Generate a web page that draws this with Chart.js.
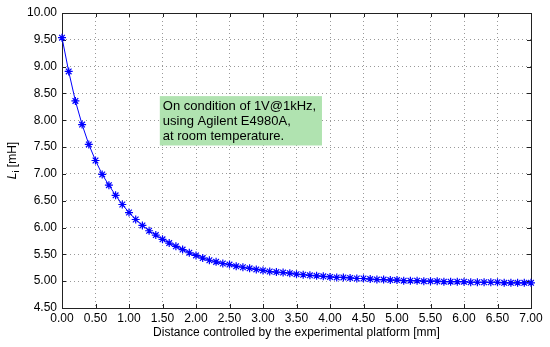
<!DOCTYPE html>
<html>
<head>
<meta charset="utf-8">
<script src="https://cdn.jsdelivr.net/npm/chart.js@4"></script>
<style>
  html, body { margin: 0; padding: 0; background: #fff; }
  #wrap { width: 550px; height: 347px; }
</style>
</head>
<body>
<div id="wrap"><canvas id="inductanceChart" width="550" height="347"></canvas></div>
<script>
// distance in mm, inductance in mH
const distances = [
    0.0, 0.1, 0.2, 0.3, 0.4, 0.5, 0.6, 0.7, 0.8, 0.9,
    1.0, 1.1, 1.2, 1.3, 1.4, 1.5, 1.6, 1.7, 1.8, 1.9,
    2.0, 2.1, 2.2, 2.3, 2.4, 2.5, 2.6, 2.7, 2.8, 2.9,
    3.0, 3.1, 3.2, 3.3, 3.4, 3.5, 3.6, 3.7, 3.8, 3.9,
    4.0, 4.1, 4.2, 4.3, 4.4, 4.5, 4.6, 4.7, 4.8, 4.9,
    5.0, 5.1, 5.2, 5.3, 5.4, 5.5, 5.6, 5.7, 5.8, 5.9,
    6.0, 6.1, 6.2, 6.3, 6.4, 6.5, 6.6, 6.7, 6.8, 6.9,
    7.0
];
const inductance = [
    9.54, 8.91, 8.36, 7.92, 7.55, 7.25, 6.99, 6.79, 6.60, 6.43,
    6.28, 6.15, 6.04, 5.94, 5.86, 5.78, 5.71, 5.65, 5.59, 5.53,
    5.48, 5.43, 5.39, 5.36, 5.33, 5.31, 5.28, 5.26, 5.24, 5.22,
    5.20, 5.18, 5.17, 5.16, 5.15, 5.13, 5.12, 5.11, 5.10, 5.09,
    5.08, 5.07, 5.07, 5.06, 5.05, 5.05, 5.04, 5.03, 5.03, 5.02,
    5.02, 5.01, 5.01, 5.01, 5.00, 5.00, 5.00, 4.99, 4.99, 4.99,
    4.99, 4.98, 4.98, 4.98, 4.98, 4.98, 4.97, 4.97, 4.97, 4.97,
    4.97
];
const noteLines = [
    "On condition of 1V@1kHz,",
    "using Agilent E4980A,",
    "at room temperature."
];
const xTitle = "Distance controlled by the experimental platform [mm]";

const FONT = "'Liberation Sans', Arial, Helvetica, sans-serif";

// box frame + inward tick marks on all four sides
const frameTicks = {
    id: "frameTicks",
    beforeDatasetsDraw(chart) {
        const ctx = chart.ctx;
        const { left, right, top, bottom } = chart.chartArea;
        const xs = chart.scales.x, ys = chart.scales.y;
        const len = 4;
        ctx.save();
        ctx.strokeStyle = "#222";
        ctx.lineWidth = 1;
        ctx.strokeRect(Math.round(left) + 0.5, Math.round(top) + 0.5,
            Math.round(right - left), Math.round(bottom - top));
        ctx.beginPath();
        xs.ticks.forEach(t => {
            const px = Math.round(xs.getPixelForValue(t.value)) + 0.5;
            ctx.moveTo(px, bottom); ctx.lineTo(px, bottom - len);
            ctx.moveTo(px, top); ctx.lineTo(px, top + len);
        });
        ys.ticks.forEach(t => {
            const py = Math.round(ys.getPixelForValue(t.value)) + 0.5;
            ctx.moveTo(left, py); ctx.lineTo(left + len, py);
            ctx.moveTo(right, py); ctx.lineTo(right - len, py);
        });
        ctx.stroke();

        // y title: italic L with subscript i, then [mH]
        ctx.translate(13, (top + bottom) / 2);
        ctx.rotate(-Math.PI / 2);
        ctx.fillStyle = "#000";
        ctx.textBaseline = "middle";
        ctx.font = "italic 12px " + FONT;
        const wL = ctx.measureText("L").width;
        ctx.font = "9px " + FONT;
        const wi = ctx.measureText("i").width;
        ctx.font = "12px " + FONT;
        const wRest = ctx.measureText(" [mH]").width;
        let x0 = -(wL + wi + wRest) / 2;
        ctx.font = "italic 12px " + FONT;
        ctx.textAlign = "left";
        ctx.fillText("L", x0, 0);
        ctx.font = "9px " + FONT;
        ctx.fillText("i", x0 + wL, 4);
        ctx.font = "12px " + FONT;
        ctx.fillText(" [mH]", x0 + wL + wi, 0);
        ctx.restore();
    }
};

// green note box
const noteBox = {
    id: "noteBox",
    afterDatasetsDraw(chart) {
        const ctx = chart.ctx;
        const xs = chart.scales.x, ys = chart.scales.y;
        const x1 = xs.getPixelForValue(1.46), x2 = xs.getPixelForValue(3.88);
        const y1 = ys.getPixelForValue(8.45), y2 = ys.getPixelForValue(7.53);
        ctx.save();
        ctx.fillStyle = "#b0e3b0";
        ctx.fillRect(x1, y1, x2 - x1, y2 - y1);
        ctx.fillStyle = "#000";
        ctx.font = "13px " + FONT;
        ctx.textBaseline = "middle";
        noteLines.forEach((line, i) => {
            ctx.fillText(line, x1 + 3, y1 + 10 + i * 15);
        });
        ctx.restore();
    }
};

const ctx = document.getElementById("inductanceChart").getContext("2d");

new Chart(ctx, {
    type: "line",
    data: {
        datasets: [{
            data: distances.map((d, i) => ({ x: d, y: inductance[i] })),
            borderColor: "#0000ff",
            backgroundColor: "#0000ff",
            borderWidth: 1,
            pointStyle: "star",
            pointRadius: 4,
            pointBorderWidth: 1.2,
            tension: 0,
            fill: false,
            clip: false
        }]
    },
    options: {
        responsive: false,
        animation: false,
        layout: { padding: { left: 0, right: 19, top: 13, bottom: 0 } },
        plugins: {
            legend: { display: false },
            tooltip: { enabled: false }
        },
        scales: {
            x: {
                type: "linear",
                min: 0,
                max: 7,
                afterFit(scale) { scale.height = 39; },
                ticks: {
                    stepSize: 0.5,
                    padding: 3,
                    color: "#000",
                    font: { family: FONT, size: 12 },
                    maxRotation: 0,
                    callback: v => v.toFixed(2)
                },
                grid: { color: "#999", drawTicks: false },
                border: { display: false, dash: [1, 3] },
                title: {
                    display: true,
                    text: xTitle,
                    color: "#000",
                    font: { family: FONT, size: 12 },
                    padding: { top: 0, bottom: 7 }
                }
            },
            y: {
                min: 4.5,
                max: 10,
                afterFit(scale) { scale.width = 62; },
                ticks: {
                    stepSize: 0.5,
                    padding: 5,
                    color: "#000",
                    font: { family: FONT, size: 12 },
                    callback: v => v.toFixed(2)
                },
                grid: { color: "#999", drawTicks: false },
                border: { display: false, dash: [1, 3] }
            }
        }
    },
    plugins: [noteBox, frameTicks]
});
</script>
</body>
</html>
